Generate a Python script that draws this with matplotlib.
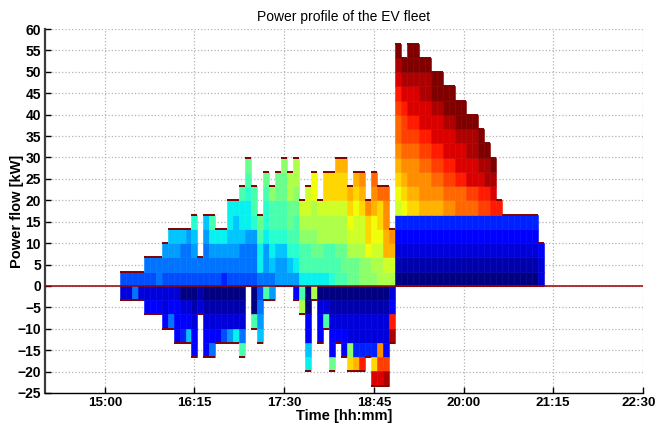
import matplotlib
matplotlib.use("Agg")
import matplotlib.pyplot as plt
from matplotlib.transforms import ScaledTranslation

plt.rcParams['font.family'] = ['Liberation Sans', 'DejaVu Sans']

# time slots: 5-minute steps, first slot centred on 15:15
first_slot = 15 * 60 + 15
slot_min = 5
seg_kw = 3.33   # one vehicle on the charger

# colour code per vehicle, a = dark blue ... z = dark red (jet)
codes = "abcdefghijklmnopqrstuvwxyz"

# charging vehicles per slot, bottom to top
charging = [
    "f", "f", "f", "f", "fg", "fg", "gg", "fgh", "fghi", "fghi",
    "fggi", "fggh", "fghik", "fg", "fgghi", "fghjl", "fghj", "eghj", "fghijj", "fghiij",
    "fggijjl", "fgghjjklm", "fgghkll", "gjjlm", "ghhjkklm", "gijklln", "hhikllmm", "hhikllmmn", "hiklmmoo", "hjkllmnoo",
    "jllnop", "jllnopp", "jlmnooqq", "jlmoop", "jllooprr", "kllooprr", "llmooprrs", "lmmooprrs", "mmopqrs", "mmoppqrs",
    "nnopprst", "nnqrrt", "nopqqstu", "oopqrru", "opssttu", "opst",
    "abcdepqrstuuvwxyz", "abcdeqrstuvvwxyz", "abcdersttuvwxxyzz", "abcdersttuvwxxyzz",
    "abcdesttuvwxxyyz", "abcdesttuvwxxyyz", "abcdestuvwxxyzz", "abcdestuvwxxyzz",
    "abcdetuvwxxyzz", "abcdetuvwxxyzz", "abcdeuuwxxyzz", "abcdeuuwxxyzz",
    "abcdeuvxxyyz", "abcdeuvxxyyz", "abcdevwxyzz", "abcdevwyyz", "abcdewxyz", "abcdew",
    "abcde", "abcde", "abcde", "abcde", "abcde", "abcde", "ccd",
]

# discharging vehicles per slot, from zero downwards
discharging = [
    "c", "c", "g", "c", "cd", "cd", "cd", "ccd", "cdg", "cddd",
    "acde", "acdi", "abcdd", "bc", "abcdd", "abcdg", "abcd", "abcf", "abch", "abcj",
    "abcgl", "", "aal", "fghi", "l", "h", "", "", "", "d",
    "lo", "aaddij", "o", "acdd", "acl", "abcddm", "abcd", "abcdd", "abccnr", "abcces",
    "abccew", "abcce", "abccerx", "abcctvx", "abccdvy", "cdwy",
] + [""] * 25

tick_min = [900, 975, 1050, 1125, 1200, 1275, 1350]
tick_lbl = ["15:00", "16:15", "17:30", "18:45", "20:00", "21:15", "22:30"]

jet = plt.get_cmap('jet')


def col(ch):
    return jet(codes.index(ch) / (len(codes) - 1))


fig = plt.figure(figsize=(6.58, 4.28), dpi=100)
ax = fig.add_axes([0.0684, 0.0818, 0.9086, 0.8504])

for k, (up, down) in enumerate(zip(charging, discharging)):
    t = first_slot + k * slot_min
    for j, ch in enumerate(up):
        c = col(ch)
        ax.bar(t, seg_kw, bottom=j * seg_kw, width=slot_min, color=c,
               edgecolor=c, linewidth=0.4, zorder=2)
    for j, ch in enumerate(down):
        c = col(ch)
        ax.bar(t, -seg_kw, bottom=-j * seg_kw, width=slot_min, color=c,
               edgecolor=c, linewidth=0.4, zorder=2)
    ax.hlines(len(up) * seg_kw, t - slot_min / 2, t + slot_min / 2,
              color='#800000', lw=1.4, zorder=3)
    ax.hlines(-len(down) * seg_kw, t - slot_min / 2, t + slot_min / 2,
              color='#800000', lw=1.4, zorder=3)

ax.axhline(0, color='#990000', lw=1.1, zorder=3)

ax.set_xlim(850, 1350)
ax.set_ylim(-25, 60)
ax.set_xticks(tick_min)
ax.set_xticklabels(tick_lbl)
ax.set_yticks(range(-25, 61, 5))

ax.grid(True, linestyle=':', color='#b4b4b4', lw=0.9)
ax.set_axisbelow(True)

ax.spines['top'].set_visible(False)
ax.spines['right'].set_visible(False)
ax.spines['left'].set_color('#3c3c3c')
ax.spines['left'].set_linewidth(1.6)
ax.spines['bottom'].set_linewidth(1.0)

ax.tick_params(direction='in', length=4, width=1, labelsize=10, pad=3)
ax.tick_params(axis='x', labelsize=9.6)
for lab in ax.get_xticklabels() + ax.get_yticklabels():
    lab.set_fontweight('bold')

# last time label sits on the figure edge, nudge it in a little
last = ax.get_xticklabels()[-1]
last.set_transform(last.get_transform() + ScaledTranslation(-3 / 72, 0, fig.dpi_scale_trans))

ax.set_title("Power profile of the EV fleet", fontsize=10, pad=6)
ax.set_xlabel("Time [hh:mm]", fontsize=10.5, fontweight='bold', labelpad=0)
ax.set_ylabel("Power flow [kW]", fontsize=10.5, fontweight='bold')
ax.yaxis.set_label_coords(-0.035, 0.5)

fig.savefig("out.png", dpi=100)
